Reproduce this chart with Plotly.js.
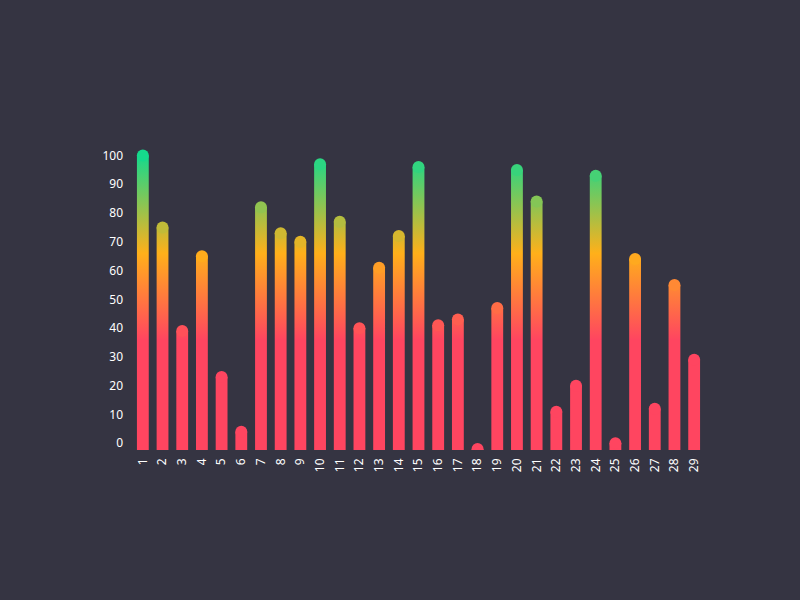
<!DOCTYPE html>
<html>
<head>
<meta charset="utf-8">
<script src="https://cdn.plot.ly/plotly-3.0.1.min.js"></script>
<style>html,body{margin:0;padding:0;background:#353442;}</style>
</head>
<body>
<div id="chart" style="width:800px;height:600px;"></div>
<script>
// Data
var categories = ['1','2','3','4','5','6','7','8','9','10','11','12','13','14','15','16','17','18','19','20','21','22','23','24','25','26','27','28','29'];
var values = [100, 75, 39, 65, 23, 4, 82, 73, 70, 97, 77, 40, 61, 72, 96, 41, 43, -2, 47, 95, 84, 11, 20, 93, 0, 64, 12, 55, 29];
var yTicks = [0, 10, 20, 30, 40, 50, 60, 70, 80, 90, 100];

// Styling
var BG = '#353442';
var colorscale = [
  [0, '#ff4560'],
  [0.36, '#ff4560'],
  [0.66, '#ffb01a'],
  [1, '#16d98c']
];
var halfW = 0.3;      // half bar width in category units
var baseY = -10;      // rectangles start below the visible range (clipped)

// Build rectangles from the data (one fill shape per bar, separated by gaps)
var rx = [], ry = [];
values.forEach(function (v, i) {
  var c = i + 1;
  rx.push(c - halfW, c - halfW, c + halfW, c + halfW, c - halfW, null);
  ry.push(baseY, v, v, baseY, baseY, null);
});

var bars = {
  type: 'scatter',
  mode: 'lines',
  x: rx,
  y: ry,
  fill: 'toself',
  connectgaps: false,
  line: {width: 0, color: 'rgba(0,0,0,0)'},
  fillgradient: {type: 'vertical', colorscale: colorscale, start: 0, stop: 100},
  hoverinfo: 'skip',
  showlegend: false
};

var caps = {
  type: 'scatter',
  mode: 'markers',
  x: categories.map(function (c, i) { return i + 1; }),
  y: values,
  marker: {
    size: 12,
    color: values,
    colorscale: colorscale,
    cmin: 0,
    cmax: 100,
    line: {width: 0}
  },
  cliponaxis: true,
  hoverinfo: 'skip',
  showlegend: false
};

var layout = {
  width: 800,
  height: 600,
  paper_bgcolor: BG,
  plot_bgcolor: BG,
  margin: {l: 133, r: 96, t: 144, b: 150},
  showlegend: false,
  font: {family: 'Noto Sans, Open Sans, sans-serif', color: '#ffffff', size: 12},
  xaxis: {
    range: [0.5, 29.5],
    tickmode: 'array',
    tickvals: categories.map(function (c, i) { return i + 1; }),
    ticktext: categories,
    tickangle: -90,
    ticklabelstandoff: 5,
    showgrid: false,
    zeroline: false,
    showline: false,
    ticks: '',
    tickfont: {size: 12, color: '#ffffff'},
    fixedrange: true
  },
  yaxis: {
    range: [-2.33, 104],
    tickmode: 'array',
    tickvals: yTicks,
    ticktext: yTicks.map(String),
    ticklabelstandoff: 9,
    showgrid: false,
    zeroline: false,
    showline: false,
    ticks: '',
    tickfont: {size: 12, color: '#ffffff'},
    fixedrange: true
  }
};

Plotly.newPlot('chart', [bars, caps], layout, {displayModeBar: false, staticPlot: true});
</script>
</body>
</html>
